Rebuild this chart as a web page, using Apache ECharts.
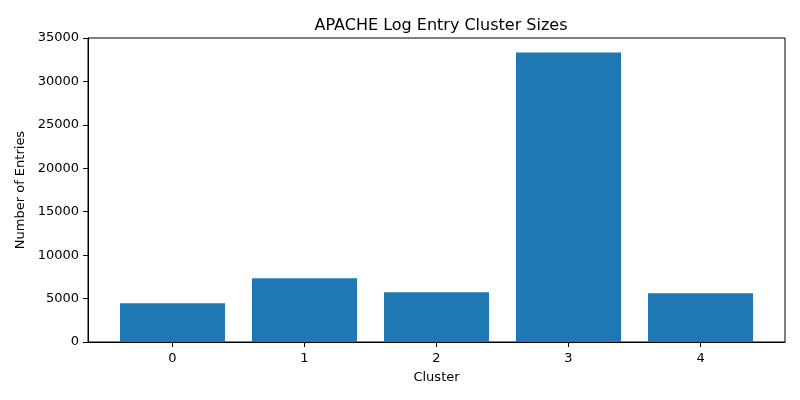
<!DOCTYPE html>
<html>
<head>
<meta charset="utf-8">
<script src="https://cdn.jsdelivr.net/npm/echarts@6/dist/echarts.min.js"></script>
<style>
  html, body { margin: 0; padding: 0; background: #fff; }
  #bar { width: 800px; height: 400px; }
</style>
</head>
<body>
<div id="bar"></div>
<script>
var clusters = [0, 1, 2, 3, 4];
var entries = [4450, 7330, 5720, 33320, 5600];

var myChart = echarts.init(document.getElementById('bar'));

var barData = [];
for (var i = 0; i < clusters.length; i++) {
	barData.push([clusters[i], entries[i]]);
}

var font = 'DejaVu Sans';

option = {
	animation: false,
	title: {
		text: 'APACHE Log Entry Cluster Sizes',
		left: 436,
		top: 13,
		textAlign: 'center',
		textStyle: {
			fontFamily: font,
			fontSize: 16,
			fontWeight: 'normal',
			color: '#000'
		}
	},
	grid: {
		left: 88,
		right: 15,
		top: 38,
		bottom: 58,
		show: true,
		borderColor: '#000',
		borderWidth: 1
	},
	xAxis: {
		type: 'value',
		min: -0.64,
		max: 4.64,
		name: 'Cluster',
		nameLocation: 'middle',
		nameGap: 29,
		nameTextStyle: { fontFamily: font, fontSize: 13, color: '#000' },
		splitLine: { show: false },
		axisLine: { show: true, onZero: false, lineStyle: { color: '#000' } },
		axisTick: { show: true, length: 5, customValues: clusters, lineStyle: { color: '#000' } },
		axisLabel: { margin: 10, customValues: clusters, fontFamily: font, fontSize: 13, color: '#000' }
	},
	yAxis: {
		type: 'value',
		min: 0,
		max: 35000,
		interval: 5000,
		name: 'Number of Entries',
		nameLocation: 'middle',
		nameGap: 60,
		nameTextStyle: { fontFamily: font, fontSize: 13, color: '#000' },
		splitLine: { show: false },
		axisLine: { show: true, onZero: false, lineStyle: { color: '#000' } },
		axisTick: { show: true, length: 5, lineStyle: { color: '#000' } },
		axisLabel: {
			margin: 9,
			fontFamily: font,
			fontSize: 13,
			color: '#000',
			formatter: function (v) { return String(v); }
		}
	},
	series: [
		{
			type: 'bar',
			barWidth: 105,
			itemStyle: { color: '#1f77b4' },
			data: barData
		}
	]
};
myChart.setOption(option);
</script>
</body>
</html>
